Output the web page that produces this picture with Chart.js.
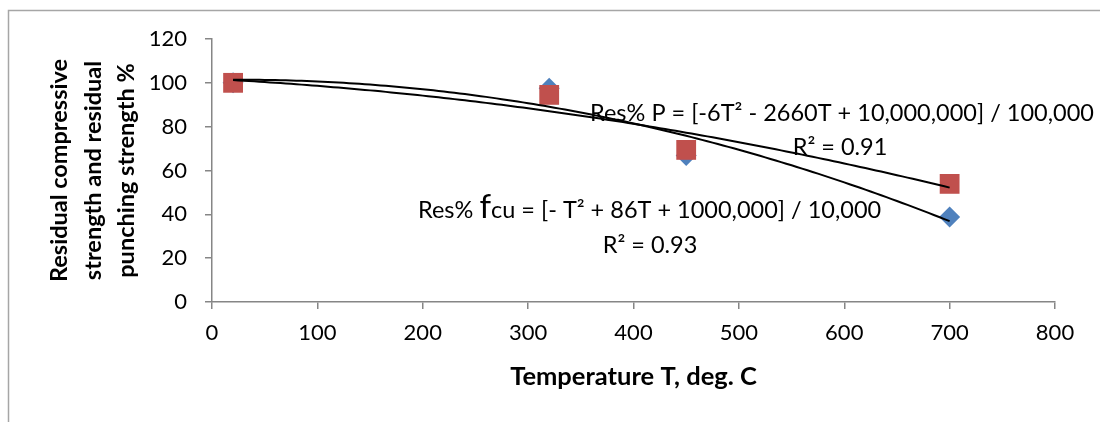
<!DOCTYPE html>
<html><head><meta charset="utf-8">
<script src="https://cdn.jsdelivr.net/npm/chart.js@4.4.1/dist/chart.umd.min.js"></script>
<style>html,body{margin:0;padding:0;background:#fff;}#wrap{width:1100px;height:422px;position:relative;}</style>
</head><body><div id="wrap"><canvas id="c" width="1100" height="422"></canvas></div>
<script>
// ---- data ----
const temperatures = [20, 320, 450, 700];
const compressiveRes = [100, 97.5, 66.9, 38.8];   // Res% fcu (blue diamonds)
const punchingRes = [100, 94.5, 69.4, 53.9];      // Res% P (red squares)
const xTickValues = [0, 100, 200, 300, 400, 500, 600, 700, 800];
const yTickValues = [0, 20, 40, 60, 80, 100, 120];
const xTitle = 'Temperature T, deg. C';
const yTitle = ['Residual compressive', 'strength and residual', 'punching strength %'];
const eqP = 'Res% P = [-6T\u00B2 - 2660T + 10,000,000] / 100,000';
const r2P = 'R\u00B2 = 0.91';
const eqF = ['Res% ', 'f', 'cu = [- T\u00B2 + 86T + 1000,000] / 10,000'];
const r2F = 'R\u00B2 = 0.93';

// quadratic least-squares trendline (as Excel's polynomial order 2)
function polyfit2(xs, ys) {
  let S = [0,0,0,0,0], T = [0,0,0];
  for (let i = 0; i < xs.length; i++) {
    let p = 1;
    for (let k = 0; k < 5; k++) { S[k] += p; if (k < 3) T[k] += p * ys[i]; p *= xs[i]; }
  }
  const A = [[S[0],S[1],S[2],T[0]],[S[1],S[2],S[3],T[1]],[S[2],S[3],S[4],T[2]]];
  for (let c = 0; c < 3; c++) {
    for (let r = c + 1; r < 3; r++) {
      const f = A[r][c] / A[c][c];
      for (let k = c; k < 4; k++) A[r][k] -= f * A[c][k];
    }
  }
  const x = [0,0,0];
  for (let r = 2; r >= 0; r--) {
    let s = A[r][3];
    for (let k = r + 1; k < 3; k++) s -= A[r][k] * x[k];
    x[r] = s / A[r][r];
  }
  return x;
}
function trend(xs, ys) {
  const c = polyfit2(xs, ys);
  const pts = [];
  const lo = xs[0], hi = xs[xs.length - 1];
  for (let t = lo; t <= hi; t += 5) pts.push({x: t, y: c[0] + c[1]*t + c[2]*t*t});
  return pts;
}
const pts = (xs, ys) => xs.map((x, i) => ({x, y: ys[i]}));

const FONT = 'Lato';
const frame = {
  id: 'frame',
  beforeDraw(chart) {
    const ctx = chart.ctx;
    ctx.save();
    ctx.fillStyle = '#fff';
    ctx.fillRect(0, 0, chart.width, chart.height);
    ctx.strokeStyle = '#a6a6a6';
    ctx.lineWidth = 1.5;
    ctx.strokeRect(8.5, 10.5, 1300, 600);
    ctx.restore();
  }
};
const notes = {
  id: 'notes',
  afterDraw(chart) {
    const ctx = chart.ctx;
    ctx.save();
    ctx.fillStyle = '#000';
    ctx.textBaseline = 'alphabetic';
    ctx.font = '23.5px ' + FONT;
    ctx.textAlign = 'left';
    ctx.fillText(eqP, 590, 121);
    ctx.textAlign = 'center';
    ctx.fillText(r2P, 840, 155);
    ctx.fillText(r2F, 650, 253);
    ctx.textAlign = 'left';
    let x = 418;
    ctx.fillText(eqF[0], x, 218); x += ctx.measureText(eqF[0]).width;
    ctx.font = '33px ' + FONT;
    ctx.fillText(eqF[1], x, 218); x += ctx.measureText(eqF[1]).width;
    ctx.font = '23.5px ' + FONT;
    ctx.fillText(eqF[2], x, 218);
    ctx.restore();
  }
};

new Chart(document.getElementById('c'), {
  type: 'scatter',
  data: {
    datasets: [
      { label: 'fcu trend', type: 'line', data: trend(temperatures, compressiveRes), borderColor: '#000', borderWidth: 2, pointRadius: 0, fill: false, tension: 0, order: 0 },
      { label: 'P trend', type: 'line', data: trend(temperatures, punchingRes), borderColor: '#000', borderWidth: 2, pointRadius: 0, fill: false, tension: 0, order: 0 },
      { label: 'Res% P', data: pts(temperatures, punchingRes), pointStyle: 'rect', pointRadius: 14, backgroundColor: '#C0504D', borderColor: '#C0504D', borderWidth: 0, order: 1 },
      { label: 'Res% fcu', data: pts(temperatures, compressiveRes), pointStyle: 'rectRot', pointRadius: 10.5, backgroundColor: '#4F81BD', borderColor: '#4F81BD', borderWidth: 0, order: 2 }
    ]
  },
  options: {
    responsive: false,
    animation: false,
    devicePixelRatio: 1,
    layout: { padding: { left: 0, right: 45, top: 39, bottom: 0 } },
    plugins: { legend: { display: false }, tooltip: { enabled: false } },
    scales: {
      x: {
        type: 'linear', min: 0, max: 800,
        afterBuildTicks: s => { s.ticks = xTickValues.map(v => ({value: v})); },
        afterFit: s => { s.height = 120; },
        ticks: { color: '#000', font: { family: FONT, size: 22 }, padding: 11 },
        grid: { drawOnChartArea: false, drawTicks: true, tickLength: 7, color: '#868686', lineWidth: 1.5 },
        border: { color: '#868686', width: 1.5 },
        title: { display: true, text: xTitle, color: '#000', font: { family: FONT, size: 25.5, weight: 'bold', lineHeight: 1.2 }, padding: { top: 0, bottom: 30 } }
      },
      y: {
        min: 0, max: 120,
        afterBuildTicks: s => { s.ticks = yTickValues.map(v => ({value: v})); },
        afterFit: s => { s.width = 212; },
        ticks: { color: '#000', font: { family: FONT, size: 22 }, padding: 18 },
        grid: { drawOnChartArea: false, drawTicks: true, tickLength: 7, color: '#868686', lineWidth: 1.5 },
        border: { color: '#868686', width: 1.5 },
        title: { display: true, text: yTitle, color: '#000', font: { family: FONT, size: 23.5, weight: 'bold', lineHeight: 1.42 }, padding: { top: 43, bottom: 0 } }
      }
    }
  },
  plugins: [frame, notes]
});
</script></body></html>
